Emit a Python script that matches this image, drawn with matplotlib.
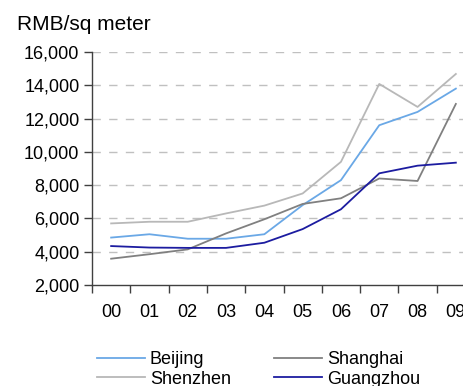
import matplotlib
matplotlib.use("Agg")
import matplotlib.pyplot as plt
from matplotlib.ticker import FuncFormatter, FixedLocator

plt.rcParams["font.family"] = ["Liberation Sans", "DejaVu Sans"]

years = ["00", "01", "02", "03", "04", "05", "06", "07", "08", "09"]
beijing = [4850, 5050, 4780, 4780, 5050, 6800, 8300, 11600, 12400, 13800]
shanghai = [3580, 3850, 4140, 5100, 5950, 6870, 7210, 8400, 8250, 12880]
shenzhen = [5700, 5800, 5800, 6300, 6770, 7500, 9400, 14080, 12700, 14680]
guangzhou = [4340, 4250, 4230, 4230, 4540, 5360, 6550, 8710, 9170, 9350]

series = [
    ("Beijing", beijing, "#6aa8e6"),
    ("Shanghai", shanghai, "#808080"),
    ("Shenzhen", shenzhen, "#b8b8b8"),
    ("Guangzhou", guangzhou, "#1c1ca0"),
]

W, H = 464, 386
fig = plt.figure(figsize=(W / 100, H / 100), dpi=100)
ax = fig.add_axes([92 / W, 1 - 285 / H, 383 / W, 233 / H])

x = list(range(len(years)))
lines = {}
for name, vals, color in series:
    (ln,) = ax.plot(x, vals, color=color, linewidth=1.3, clip_on=False)
    lines[name] = ln

ax.set_xlim(-0.5, 9.5)
ax.set_ylim(2000, 16000)
ax.set_yticks(range(2000, 16001, 2000))
ax.yaxis.set_major_formatter(FuncFormatter(lambda v, _: f"{int(v):,}"))
for yv in range(4000, 16001, 2000):
    ax.axhline(yv, color="#c0c0c0", linewidth=1, linestyle=(0, (6, 6)), zorder=0)

ax.set_xticks(x)
ax.set_xticklabels(years)
ax.xaxis.set_minor_locator(FixedLocator([i + 0.5 for i in range(-1, 10)]))
ax.tick_params(axis="x", which="major", length=0, pad=14, labelsize=13)
ax.tick_params(axis="x", which="minor", length=6, width=1, color="#404040", direction="out")
ax.tick_params(axis="y", length=6, width=1, color="#404040", labelsize=13, pad=3)

for s in ["top", "right"]:
    ax.spines[s].set_visible(False)
for s in ["left", "bottom"]:
    ax.spines[s].set_color("#404040")
    ax.spines[s].set_linewidth(1)

fig.text(17 / W, 1 - 25 / H, "RMB/sq meter", fontsize=15, va="center", ha="left")

handles = [lines["Beijing"], lines["Shenzhen"], lines["Shanghai"], lines["Guangzhou"]]
labels = ["Beijing", "Shenzhen", "Shanghai", "Guangzhou"]
fig.legend(handles, labels, ncol=2, loc="upper left",
           bbox_to_anchor=(97 / W, 1 - 351 / H), frameon=False,
           fontsize=13, handlelength=2.65, handletextpad=0.28,
           columnspacing=2.4, labelspacing=0.15, borderpad=0, borderaxespad=0)

fig.savefig("out.png", dpi=100)
